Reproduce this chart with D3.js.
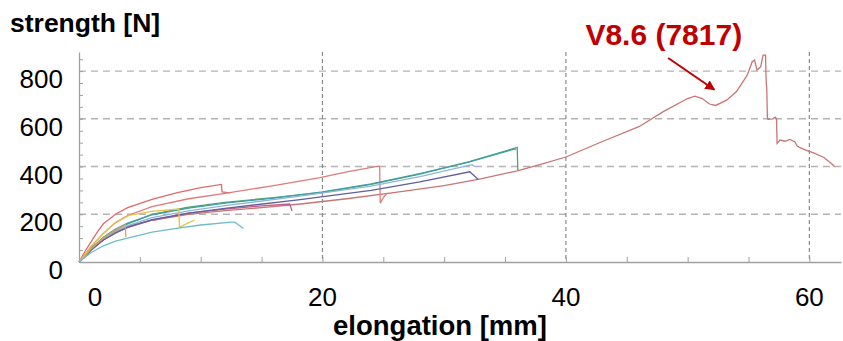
<!DOCTYPE html>
<html>
<head>
<meta charset="utf-8">
<script src="https://cdn.jsdelivr.net/npm/d3@7"></script>
<style>
  body { margin: 0; background: #fff; }
  svg { display: block; font-family: "Liberation Sans", Arial, sans-serif; }
</style>
</head>
<body>
<svg id="drawing_region"></svg>
<script>
// elongation [mm], strength [N] pairs for each specimen
const v86 = [[0,0],[0.5,30],[1,58],[2,100],[3,130],[4,150],[6,175],[9,200],[12,215],[15,228],[18,242],[22,265],[26,292],[30,320],[33,348],[36,382],[38,410],[40,440],[43,505],[46,567],[48,630],[50,685],[50.6,695],[51.2,685],[51.8,662],[52.3,656],[53.2,678],[54,713],[54.9,783],[55.3,839],[55.5,846],[55.7,804],[56.0,818],[56.2,867],[56.4,867],[56.45,760],[56.5,727],[56.55,608],[56.6,598],[57.0,600],[57.2,607],[57.3,600],[57.35,497],[57.6,511],[58.0,506],[58.4,514],[58.8,504],[59.0,486],[59.2,480],[59.7,469],[60.3,458],[61.2,438],[61.8,413],[62.1,399]];
const red1 = [[0,0],[0.5,45],[1,85],[1.5,125],[2,160],[3,200],[4,228],[6,262],[8,290],[10,312],[11.7,325],[11.75,294],[12.4,290]];
const red2 = [[0,0],[1,65],[2,120],[3,165],[4,195],[6,232],[9,265],[12,288],[16,320],[19.8,354],[22,378],[24.6,402],[24.7,400],[24.75,246],[25.0,270],[25.3,288]];
const magenta = [[0,0],[1,50],[2,92],[3,122],[4,145],[6,175],[9,205],[12,222],[15,235],[17.3,243],[17.4,230],[17.5,214]];
const green = [[0,0],[1,55],[2,100],[3,135],[4,160],[6,200],[9,230],[12,250],[16,270],[20,292],[24,325],[28,368],[32,420],[36,480],[36.05,385]];
const teal = [[0,0],[1,57],[2,104],[3,138],[4,163],[6,198],[9,226],[12,247],[16,268],[20,294],[24,327],[28,370],[32,419],[35.8,474],[35.85,468]];
const skyblue = [[0,0],[1,52],[2,96],[3,128],[4,152],[6,186],[9,214],[12,236],[18,275],[24,318],[28,358],[32.3,408],[32.5,400]];
const navy = [[0,0],[1,50],[2,92],[3,122],[4,145],[6,178],[9,205],[12,225],[18,260],[24,300],[28,336],[32.1,378],[32.8,346]];
const orange = [[0,0],[1,55],[2,100],[3,135],[3.8,155],[3.85,105]];
const yellow = [[0,0],[1,65],[2,120],[3,165],[4.1,195],[6,212],[8.2,222],[8.25,145],[8.8,160],[9.5,176]];
const cyan = [[0,0],[0.5,20],[1,40],[2,68],[3,87],[4,100],[6,125],[8,141],[10,155],[12.5,167],[12.8,167],[13.2,152],[13.5,141]];

const seriesList = [v86, red1, red2, magenta, green, teal, skyblue, navy, orange, yellow, cyan];
const seriesColors = ['#c97575', '#e06a6a', '#e27a7a', '#c85a86', '#4fa56a', '#3f9ea6', '#8fb6d6', '#5d5f9e', '#e8a050', '#e8c04a', '#6fbcca'];

const xTicks = [0, 20, 40, 60];
const yTicks = [0, 200, 400, 600, 800];

const W = 843, H = 341;
const svg = d3.select('#drawing_region').attr('width', W).attr('height', H);

const xscale = d3.scaleLinear().domain([0, 62.6]).range([79, 841]);
const yscale = d3.scaleLinear().domain([0, 880]).range([262, 52]);

// grid
svg.append('g').selectAll('line')
    .data(yTicks.filter(d => d > 0))
    .join('line')
    .attr('x1', xscale(0)).attr('x2', xscale(62.6))
    .attr('y1', d => yscale(d)).attr('y2', d => yscale(d))
    .attr('stroke', '#b4b4b4').attr('stroke-width', 1.4)
    .attr('stroke-dasharray', '7,5');

svg.append('g').selectAll('line')
    .data(xTicks.filter(d => d > 0))
    .join('line')
    .attr('x1', d => xscale(d)).attr('x2', d => xscale(d))
    .attr('y1', yscale(880)).attr('y2', yscale(0))
    .attr('stroke', '#8a8a8a').attr('stroke-width', 1.2)
    .attr('stroke-dasharray', '4,3');

// axes with minor ticks
const xaxis = d3.axisTop(xscale).tickValues(d3.range(0, 62.6, 5)).tickSize(5).tickFormat('').tickSizeOuter(0);
const xg = svg.append('g').attr('transform', `translate(0, ${yscale(0)})`).call(xaxis);
const yaxis = d3.axisRight(yscale).tickValues(d3.range(0, 881, 50)).tickSize(4).tickFormat('').tickSizeOuter(0);
const yg = svg.append('g').attr('transform', `translate(${xscale(0)}, 0)`).call(yaxis);
[xg, yg].forEach(g => {
    g.select('.domain').attr('stroke', '#a0a0a0').attr('stroke-width', 1.3);
    g.selectAll('.tick line').attr('stroke', '#a0a0a0');
});

// tick labels
svg.append('g').selectAll('text')
    .data(xTicks)
    .join('text')
    .attr('x', d => xscale(d) + (d === 0 ? 16 : 0))
    .attr('y', 306)
    .attr('text-anchor', 'middle')
    .style('font-size', '26px')
    .text(d => d);

svg.append('g').selectAll('text')
    .data(yTicks)
    .join('text')
    .attr('x', 63)
    .attr('y', d => yscale(d) + 17)
    .attr('text-anchor', 'end')
    .style('font-size', '26px')
    .text(d => d);

// curves
const line = d3.line().x(d => xscale(d[0])).y(d => yscale(d[1]));
svg.append('g').selectAll('path')
    .data(seriesList)
    .join('path')
    .attr('d', line)
    .attr('fill', 'none')
    .attr('stroke', (d, i) => seriesColors[i])
    .attr('stroke-width', 1.3);

// axis titles
svg.append('text')
    .attr('x', 10).attr('y', 32)
    .style('font-size', '26.5px').style('font-weight', 'bold')
    .text('strength [N]');

svg.append('text')
    .attr('x', 440).attr('y', 335)
    .attr('text-anchor', 'middle')
    .style('font-size', '27.5px').style('font-weight', 'bold')
    .text('elongation [mm]');

// annotation
const annot = { label: 'V8.6 (7817)', tx: 41.6, ty: 908, from: [48.4, 855], to: [52.2, 722] };
svg.append('defs').append('marker')
    .attr('id', 'arrowhead')
    .attr('viewBox', '0 0 10 10')
    .attr('refX', 9).attr('refY', 5)
    .attr('markerWidth', 5).attr('markerHeight', 5)
    .attr('orient', 'auto')
    .append('path').attr('d', 'M0,0 L10,5 L0,10 z').attr('fill', '#c00000');

svg.append('line')
    .attr('x1', xscale(annot.from[0])).attr('y1', yscale(annot.from[1]))
    .attr('x2', xscale(annot.to[0])).attr('y2', yscale(annot.to[1]))
    .attr('stroke', '#c00000').attr('stroke-width', 2)
    .attr('marker-end', 'url(#arrowhead)');

svg.append('text')
    .attr('x', xscale(annot.tx)).attr('y', yscale(annot.ty))
    .style('font-size', '30px').style('font-weight', 'bold')
    .attr('fill', '#c00000')
    .text(annot.label);
</script>
</body>
</html>
